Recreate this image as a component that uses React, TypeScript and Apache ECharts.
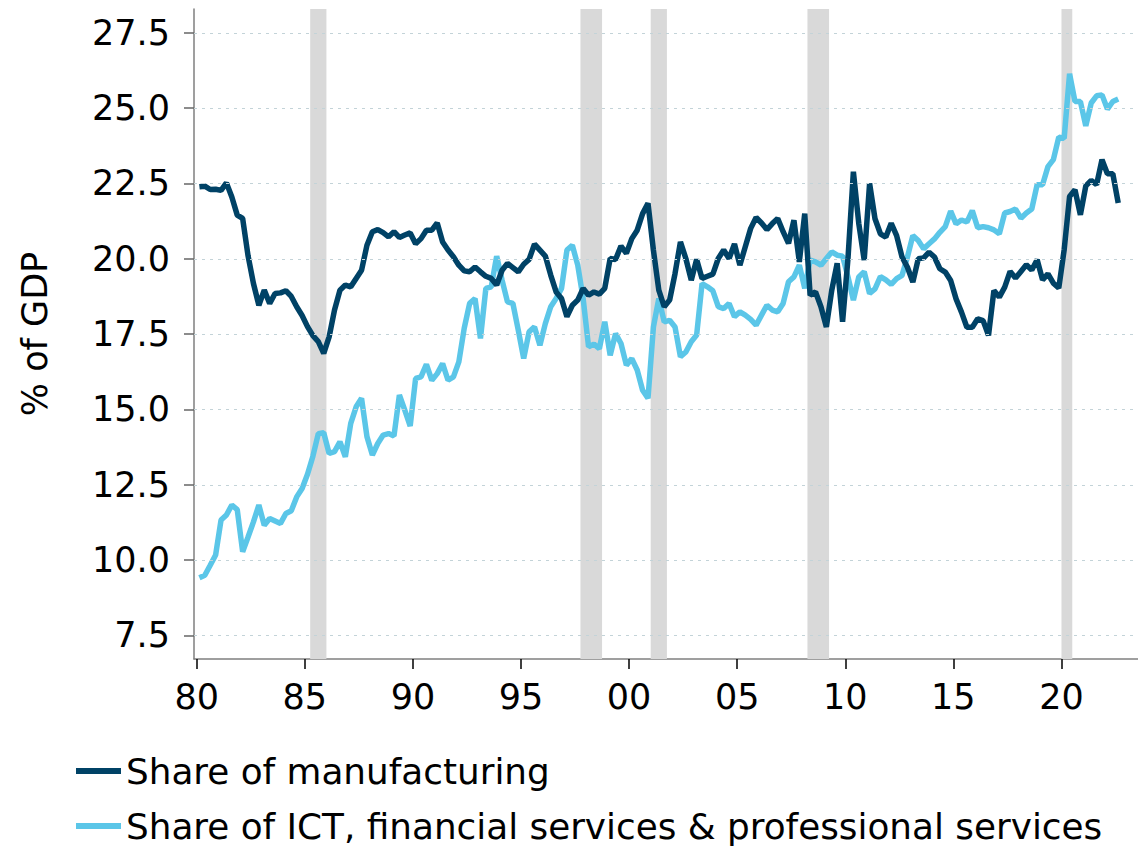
import React, { useEffect, useRef } from "react";
import * as echarts from "echarts";

// Quarterly data, Q1 1980 .. Q3 2022 (% of GDP)
const START_YEAR = 1980;

const manufacturing = [
  22.39, 22.41, 22.3, 22.31, 22.27, 22.52, 22.05, 21.45, 21.34, 20.1,
  19.18, 18.46, 18.96, 18.52, 18.85, 18.87, 18.94, 18.75, 18.41, 18.12,
  17.75, 17.45, 17.25, 16.86, 17.41, 18.3, 18.96, 19.13, 19.07, 19.35,
  19.62, 20.45, 20.9, 20.97, 20.87, 20.73, 20.9, 20.71, 20.79, 20.86,
  20.5, 20.67, 20.95, 20.95, 21.19, 20.56, 20.29, 20.07, 19.79, 19.6,
  19.57, 19.73, 19.57, 19.42, 19.35, 19.13, 19.62, 19.85, 19.71, 19.57,
  19.82, 19.98, 20.49, 20.29, 20.09, 19.46, 18.9, 18.68, 18.08, 18.46,
  18.63, 19.02, 18.79, 18.9, 18.83, 19.02, 20.01, 19.98, 20.42, 20.18,
  20.67, 20.95, 21.5, 21.84, 20.29, 18.96, 18.41, 18.63, 19.51, 20.56,
  20.01, 19.29, 19.98, 19.35, 19.42, 19.49, 20.01, 20.29, 20.01, 20.49,
  19.79, 20.4, 21.01, 21.37, 21.19, 20.97, 21.17, 21.34, 20.9, 20.51,
  21.28, 19.9, 21.5, 18.79, 18.9, 18.41, 17.74, 18.96, 19.85, 17.91,
  20.01, 22.89, 21.17, 19.96, 22.5, 21.33, 20.83, 20.72, 21.18, 20.77,
  20.06, 19.72, 19.23, 20.0, 20.03, 20.22, 20.06, 19.67, 19.56, 19.28,
  18.67, 18.23, 17.73, 17.73, 18.01, 17.95, 17.46, 18.95, 18.73, 19.06,
  19.58, 19.36, 19.58, 19.8, 19.63, 19.97, 19.3, 19.5, 19.19, 19.03,
  20.3, 22.07, 22.29, 21.46, 22.42, 22.6, 22.46, 23.29, 22.82, 22.82,
  21.85,
];

const ictFinProf = [
  9.42, 9.5, 9.83, 10.17, 11.33, 11.5, 11.83, 11.68, 10.28, 10.77,
  11.27, 11.83, 11.16, 11.38, 11.3, 11.22, 11.55, 11.64, 12.1, 12.38,
  12.85, 13.45, 14.2, 14.23, 13.54, 13.6, 13.93, 13.43, 14.54, 15.09,
  15.37, 14.1, 13.49, 13.87, 14.15, 14.2, 14.12, 15.48, 14.98, 14.45,
  16.03, 16.08, 16.5, 15.97, 16.19, 16.52, 15.97, 16.08, 16.58, 17.7,
  18.52, 18.68, 17.36, 19.02, 19.07, 20.09, 19.29, 18.57, 18.52, 17.63,
  16.69, 17.58, 17.74, 17.13, 17.85, 18.41, 18.68, 19.02, 20.29, 20.45,
  19.79, 18.68, 17.08, 17.17, 17.02, 17.91, 16.8, 17.52, 17.19, 16.47,
  16.69, 16.31, 15.64, 15.37, 17.74, 18.68, 17.91, 17.96, 17.74, 16.75,
  16.91, 17.25, 17.47, 19.18, 19.07, 18.94, 18.41, 18.35, 18.52, 18.08,
  18.24, 18.13, 17.99, 17.8, 18.13, 18.46, 18.3, 18.24, 18.52, 19.24,
  19.4, 19.79, 19.02, 19.96, 19.9, 19.79, 20.01, 20.23, 20.12, 20.09,
  19.4, 18.63, 19.4, 19.57, 18.85, 19.0, 19.41, 19.3, 19.15, 19.34,
  19.45, 20.06, 20.77, 20.61, 20.33, 20.5, 20.66, 20.88, 21.07, 21.58,
  21.16, 21.29, 21.22, 21.6, 21.03, 21.07, 21.03, 20.96, 20.83, 21.52,
  21.57, 21.65, 21.35, 21.52, 21.65, 22.46, 22.46, 23.06, 23.29, 24.04,
  24.0, 26.14, 25.22, 25.22, 24.41, 25.17, 25.41, 25.44, 24.97, 25.22,
  25.3,
];

// Recession periods (decimal years)
const recessions: [number, number][] = [
  [1985.25, 1986.0],
  [1997.75, 1998.75],
  [2001.0, 2001.75],
  [2008.25, 2009.25],
  [2020.0, 2020.5],
];

const xTickYears = [1980, 1985, 1990, 1995, 2000, 2005, 2010, 2015, 2020];
const xTickLabels = ["80", "85", "90", "95", "00", "05", "10", "15", "20"];
const yTicks = [7.5, 10, 12.5, 15, 17.5, 20, 22.5, 25, 27.5];

const seriesNames = [
  "Share of manufacturing",
  "Share of ICT, financial services & professional services",
];

const FONT = "DejaVu Sans";

function toPoints(values: number[]) {
  return values.map((v, i) => [START_YEAR + 0.125 + 0.25 * i, v]);
}

export default function App() {
  const ref = useRef<HTMLDivElement>(null);

  useEffect(() => {
    if (!ref.current) return;
    const chart = echarts.init(ref.current, null, { renderer: "svg" });
    chart.setOption({
      animation: false,
      backgroundColor: "#ffffff",
      textStyle: { fontFamily: FONT },
      grid: { left: 194, right: 0, top: 9, bottom: 189, containLabel: false },
      legend: {
        orient: "vertical",
        left: 76,
        top: 753,
        padding: 0,
        icon: "rect",
        itemWidth: 45,
        itemHeight: 6,
        itemGap: 19,
        textStyle: { fontFamily: FONT, fontSize: 35.8, lineHeight: 36, color: "#000" },
        data: seriesNames,
      },
      xAxis: {
        type: "value",
        min: 1979.875,
        max: 2023.54,
        splitLine: { show: false },
        axisLine: { show: true, lineStyle: { color: "#7f7f7f", width: 1.5 } },
        axisTick: {
          show: true,
          customValues: xTickYears,
          length: 10,
          lineStyle: { color: "#000", width: 1.5 },
        },
        axisLabel: {
          customValues: xTickYears,
          margin: 20,
          fontFamily: FONT,
          fontSize: 35,
          color: "#000",
          formatter: (v: number) => {
            const idx = xTickYears.indexOf(Math.round(v));
            return idx >= 0 ? xTickLabels[idx] : "";
          },
        },
      },
      yAxis: {
        type: "value",
        min: 6.72,
        max: 28.29,
        name: "% of GDP",
        nameLocation: "middle",
        nameRotate: 90,
        nameGap: 142,
        nameTextStyle: { fontFamily: FONT, fontSize: 35, color: "#000" },
        splitLine: { show: false },
        axisLine: { show: true, lineStyle: { color: "#7f7f7f", width: 1.5 } },
        axisTick: {
          show: true,
          customValues: yTicks,
          length: 10,
          lineStyle: { color: "#666", width: 1.5 },
        },
        axisLabel: {
          customValues: yTicks,
          margin: 24,
          fontFamily: FONT,
          fontSize: 35,
          color: "#000",
          formatter: (v: number) => v.toFixed(1),
        },
      },
      series: [
        {
          name: "__bg",
          type: "line",
          data: [[1979.875, null]],
          silent: true,
          z: 1,
          symbol: "none",
          lineStyle: { opacity: 0 },
          markArea: {
            silent: true,
            itemStyle: { color: "#d9d9d9" },
            data: recessions.map(([a, b]) => [{ xAxis: a }, { xAxis: b }]),
          },
          markLine: {
            silent: true,
            symbol: ["none", "none"],
            label: { show: false },
            lineStyle: { color: "#c3d3d8", type: [3, 5], width: 1.2 },
            data: yTicks.map((t) => ({ yAxis: t })),
          },
        },
        {
          name: seriesNames[0],
          type: "line",
          z: 3,
          data: toPoints(manufacturing),
          showSymbol: false,
          symbol: "none",
          color: "#004266",
          lineStyle: { color: "#004266", width: 5.5 },
        },
        {
          name: seriesNames[1],
          type: "line",
          z: 2,
          data: toPoints(ictFinProf),
          showSymbol: false,
          symbol: "none",
          color: "#5bc6e8",
          lineStyle: { color: "#5bc6e8", width: 5.5 },
        },
      ],
    });
    return () => chart.dispose();
  }, []);

  return (
    <div
      ref={ref}
      style={{ position: "fixed", left: 0, top: 0, width: 1138, height: 848, background: "#fff" }}
    />
  );
}
